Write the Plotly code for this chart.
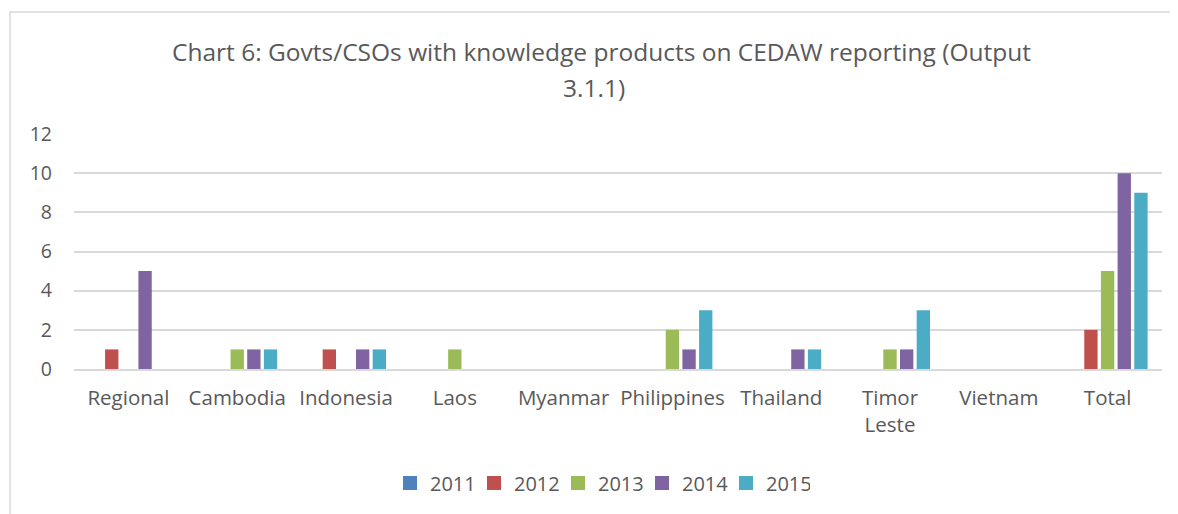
import plotly.graph_objects as go

categories = ["Regional", "Cambodia", "Indonesia", "Laos", "Myanmar", "Philippines",
              "Thailand", "Timor<br>Leste", "Vietnam", "Total"]
years = ["2011", "2012", "2013", "2014", "2015"]
v2011 = [0, 0, 0, 0, 0, 0, 0, 0, 0, 0]
v2012 = [1, 0, 1, 0, 0, 0, 0, 0, 0, 2]
v2013 = [0, 1, 0, 1, 0, 2, 0, 1, 0, 5]
v2014 = [5, 1, 1, 0, 0, 1, 1, 1, 0, 10]
v2015 = [0, 1, 1, 0, 0, 3, 1, 3, 0, 9]
series = [v2011, v2012, v2013, v2014, v2015]
colors = ["#4F81BD", "#C0504D", "#9BBB59", "#8064A2", "#4BACC6"]
title_lines = ["Chart 6: Govts/CSOs with knowledge products on CEDAW reporting (Output", "3.1.1)"]

FONT = "Open Sans"
TXT = "#595959"
OFF = 8  # page body margin

fig = go.Figure()
for name, vals, c in zip(years, series, colors):
    fig.add_trace(go.Bar(x=categories, y=vals, name=name, marker_color=c,
                         marker_line_width=0, showlegend=False))
for name, c in zip(years, colors):
    fig.add_trace(go.Scatter(x=[None], y=[None], mode="markers", name=name,
                             marker=dict(symbol="square", size=14, color=c)))

W, H = 1178 - OFF, 514 - OFF
L, T = 74 - OFF, 134 - OFF
R = W - (1162 - OFF)
B = H - (369 - OFF)
pw, ph = W - L - R, H - T - B

def px2x(px):
    return (px - OFF - L) / pw

def py2y(py):
    return (H - B - (py - OFF)) / ph

fig.update_layout(
    width=W, height=H,
    margin=dict(l=L, r=R, t=T, b=B),
    paper_bgcolor="white", plot_bgcolor="white",
    barmode="group", bargap=0.234, bargroupgap=0.2,
    font=dict(family=FONT, color=TXT, size=20),
    showlegend=True,
    legend=dict(orientation="h", x=px2x(600), xanchor="center", y=py2y(483), yanchor="middle",
                font=dict(size=20, color=TXT), itemwidth=30, entrywidth=39,
                traceorder="normal"),
    xaxis=dict(showgrid=False, showline=True, linecolor="#D9D9D9", linewidth=1.5,
               ticks="", tickfont=dict(size=20.5, color=TXT), ticklabelstandoff=10),
    yaxis=dict(range=[0, 12], dtick=2, showgrid=True, gridcolor="#D9D9D9", gridwidth=1.5,
               zeroline=False, showline=False, ticks="",
               tickfont=dict(size=19.5, color=TXT), ticklabelstandoff=21),
    annotations=[
        dict(text=title_lines[0], xref="paper", yref="paper", x=px2x(601), y=py2y(51),
             xanchor="center", yanchor="middle", showarrow=False,
             font=dict(size=24.5, color=TXT, family=FONT)),
        dict(text=title_lines[1], xref="paper", yref="paper", x=px2x(594), y=py2y(87),
             xanchor="center", yanchor="middle", showarrow=False,
             font=dict(size=24.5, color=TXT, family=FONT)),
    ],
    shapes=[dict(type="path", xref="paper", yref="paper",
                 path=f"M {px2x(10)} {py2y(530)} L {px2x(10)} {py2y(12)} L {px2x(1190)} {py2y(12)}",
                 line=dict(color="#D9D9D9", width=1.5))],
)

fig.write_html("out.html")
